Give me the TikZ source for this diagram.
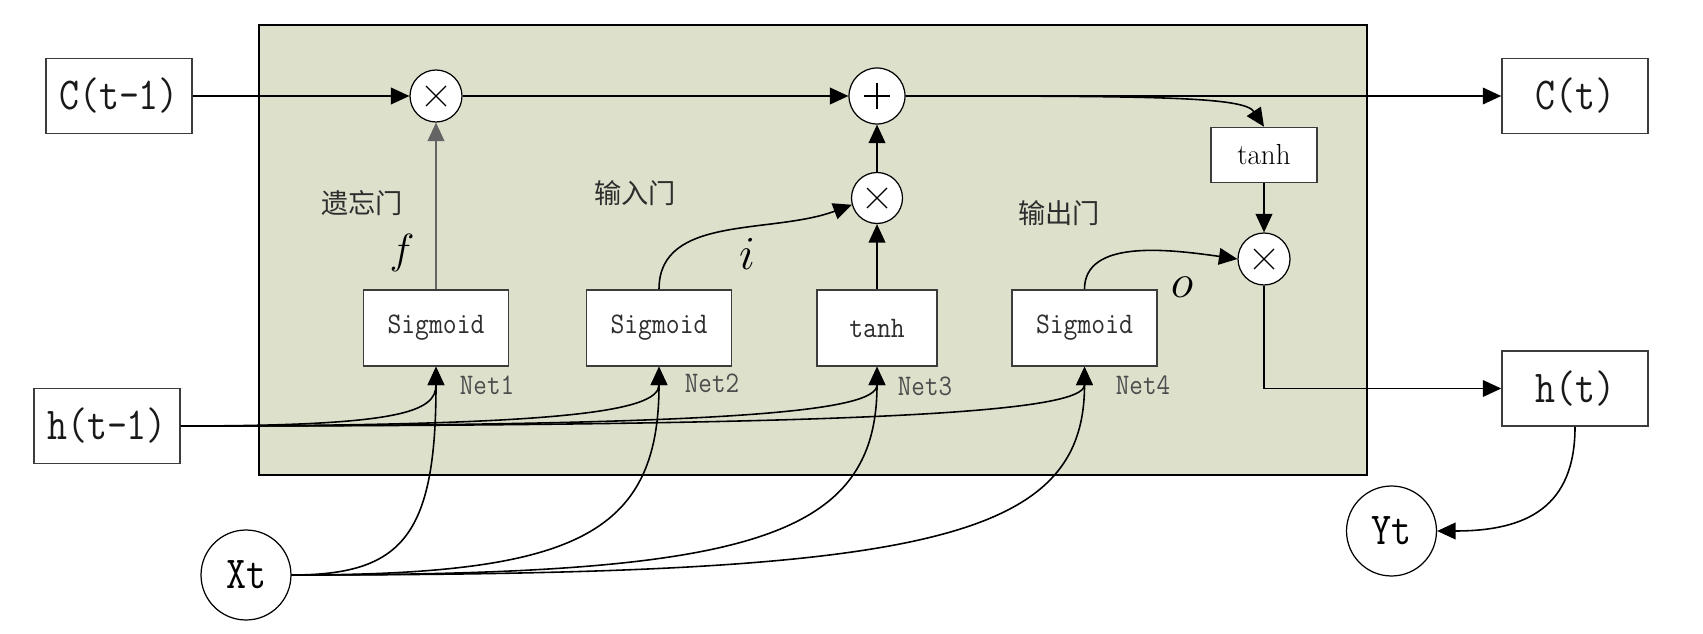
\documentclass[tikz,border=0pt]{standalone}
\usepackage{fix-cm}
\usepackage{fontspec}
\usepackage{graphicx}
\newfontfamily\cjk{Noto Sans CJK SC}
\usetikzlibrary{arrows.meta}
\definecolor{cellbg}{RGB}{221,225,204}
\definecolor{boxline}{RGB}{60,60,60}
\definecolor{txtgray}{RGB}{45,45,45}
\newcommand{\bigtxt}[1]{\scalebox{0.85}[1]{\fontsize{26}{30}\selectfont\ttfamily #1}}
\newcommand{\midtxt}[1]{\scalebox{0.9}[1]{\fontsize{17}{20}\selectfont\ttfamily #1}}
\newcommand{\nettxt}[1]{\scalebox{0.88}[1]{\fontsize{17}{20}\selectfont\ttfamily #1}}
\begin{document}
\begin{tikzpicture}[x=0.02cm, y=-0.02cm,
  box/.style={draw=boxline, fill=white, rectangle, inner sep=0pt, line width=0.9pt},
  io/.style={box, minimum width=2.92cm, minimum height=1.5cm, text={rgb,255:red,25;green,25;blue,25}},
  gate/.style={box, minimum width=2.9cm, minimum height=1.52cm, text=txtgray},
  op/.style={circle, draw=black, fill=white, inner sep=0pt, line width=0.7pt},
  mul/.style={op, minimum size=1.04cm, path picture={
      \draw[line width=0.7pt] ([shift={(-10,-10)}]path picture bounding box.center) -- ([shift={(10,10)}]path picture bounding box.center);
      \draw[line width=0.7pt] ([shift={(-10,10)}]path picture bounding box.center) -- ([shift={(10,-10)}]path picture bounding box.center);}},
  add/.style={op, minimum size=1.12cm, path picture={
      \draw[line width=0.7pt] ([shift={(-13,0)}]path picture bounding box.center) -- ([shift={(13,0)}]path picture bounding box.center);
      \draw[line width=0.7pt] ([shift={(0,-13)}]path picture bounding box.center) -- ([shift={(0,13)}]path picture bounding box.center);}},
  var/.style={circle, draw=black, fill=white, minimum size=1.8cm, inner sep=0pt, line width=0.7pt},
  arr/.style={draw=black, line width=0.9pt, -{Triangle[length=10.5pt,width=9.5pt]}},
  lab/.style={text=txtgray, font=\cjk\fontsize{15.5}{18}\selectfont},
  glab/.style={text=black, font=\fontsize{27}{30}\selectfont},
  net/.style={text=black!70, inner sep=0pt}
]
\useasboundingbox (0,0) rectangle (1703,634);
\draw[fill=cellbg, line width=0.9pt] (259,25) rectangle (1367,475);

\node[io] (cp) at (119,96) {\bigtxt{C(t-1)}};
\node[io] (hp) at (107,426) {\bigtxt{h(t-1)}};
\node[io] (ct) at (1575,96) {\bigtxt{C(t)}};
\node[io] (ht) at (1575,388.5) {\bigtxt{h(t)}};

\node[mul] (m1) at (436,96) {};
\node[add] (pl) at (877,96) {};
\node[mul, minimum size=1.02cm] (m2) at (877,198) {};
\node[mul] (m3) at (1264,259) {};
\node[box, minimum width=2.13cm, minimum height=1.1cm, text=black] (th2) at (1264,155) {\fontsize{16.5}{18}\selectfont tanh};

\node[gate] (s1) at (436,328) {\midtxt{Sigmoid}};
\node[gate] (s2) at (659,328) {\midtxt{Sigmoid}};
\node[gate, minimum width=2.4cm] (t1) at (877,328) {\midtxt{tanh}};
\node[gate] (s3) at (1084.5,328) {\midtxt{Sigmoid}};

\node[var] (xt) at (246,575) {\bigtxt{Xt}};
\node[var] (yt) at (1391.5,531) {\bigtxt{Yt}};

\node[lab] (g1) at (362,203) {遗忘门};
\node[lab] (g2) at (635,193) {输入门};
\node[lab] (g3) at (1059,213) {输出门};
\node[glab, font=\fontsize{24}{28}\selectfont] (lf) at (402,253) {$f$};
\node[glab] (li) at (747,254) {$i$};
\node[glab] (lo) at (1182,287) {$o$};
\node[net] (n1) at (487,385) {\nettxt{Net1}};
\node[net] (n2) at (712,383) {\nettxt{Net2}};
\node[net] (n3) at (925,386) {\nettxt{Net3}};
\node[net] (n4) at (1143,385) {\nettxt{Net4}};

% cell state line
\draw[arr] (cp.east) -- (m1.west);
\draw[arr] (m1.east) -- (pl.west);
\draw[arr] (pl.east) -- (ct.west);
\draw[arr] (pl.east) .. controls +(250,0) and +(-20,-30) .. (th2.north);
\draw[arr] (th2.south) -- (m3.north);
% gates to multipliers
\draw[arr, draw={rgb,255:red,100;green,100;blue,100}] (s1.north) -- (m1.south);
\draw[arr] (t1.north) -- (m2.south);
\draw[arr] (m2.north) -- (pl.south);
\draw[arr] (s2.north) .. controls +(0,-75) and +(-80,30) .. (m2.195);
\draw[arr] (s3.north) .. controls +(0,-50) and +(-70,-10) .. (m3.west);
% outputs
\draw[arr] (m3.south) |- (ht.west);
\draw[arr] (ht.south) .. controls +(0,80) and +(90,0) .. (yt.east);
% h(t-1) inputs
\draw[arr] (hp.east) .. controls +(220,0) and +(0,45) .. (s1.south);
\draw[arr] (hp.east) .. controls +(380,0) and +(0,45) .. (s2.south);
\draw[arr] (hp.east) .. controls +(550,0) and +(0,45) .. (t1.south);
\draw[arr] (hp.east) .. controls +(700,0) and +(0,45) .. (s3.south);
% Xt inputs
\draw[arr] (xt.east) .. controls +(110,0) and +(0,170) .. (s1.south);
\draw[arr] (xt.east) .. controls +(280,0) and +(0,170) .. (s2.south);
\draw[arr] (xt.east) .. controls +(450,0) and +(0,175) .. (t1.south);
\draw[arr] (xt.east) .. controls +(630,0) and +(0,175) .. (s3.south);
\end{tikzpicture}
\end{document}
